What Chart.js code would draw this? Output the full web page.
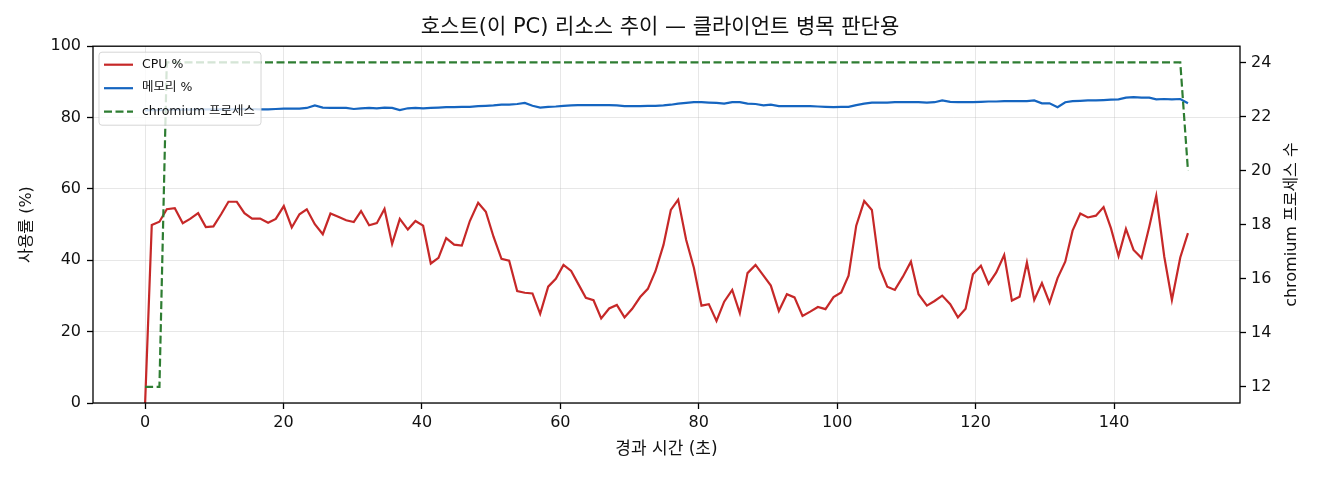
<!DOCTYPE html>
<html><head><meta charset="utf-8">
<script src="https://cdn.jsdelivr.net/npm/chart.js@4"></script>
<style>html,body{margin:0;padding:0;background:#fff;}canvas{display:block}</style>
</head><body>
<canvas id="c" width="1320" height="480"></canvas>
<script>
const titleText = '호스트(이 PC) 리소스 추이 — 클라이언트 병목 판단용';
const xTitle = '경과 시간 (초)';
const yLeftTitle = '사용률 (%)';
const yRightTitle = 'chromium 프로세스 수';
const seriesLabels = ['CPU %', '메모리 %', 'chromium 프로세스'];

const times = [
0,0.96,2.07,3.13,4.29,5.44,6.50,7.66,8.77,9.87,
10.98,12.04,13.25,14.35,15.46,16.62,17.77,18.88,20.04,21.19,
22.30,23.36,24.52,25.67,26.78,27.99,29.05,30.15,31.20,32.37,
33.48,34.59,35.69,36.80,37.96,39.06,40.17,41.28,42.39,43.50,
44.65,45.76,46.92,48.12,49.23,50.34,51.49,52.60,53.76,54.86,
55.97,57.08,58.24,59.34,60.45,61.56,62.52,63.68,64.79,65.90,
67.05,68.16,69.27,70.38,71.53,72.64,73.75,74.90,75.96,77.02,
78.18,79.29,80.39,81.45,82.56,83.67,84.83,85.93,87.04,88.20,
89.35,90.41,91.57,92.73,93.83,94.99,96.10,97.21,98.31,99.47,
100.58,101.64,102.75,103.90,105.01,106.12,107.23,108.33,109.49,110.65,
111.75,112.96,114.07,115.17,116.33,117.44,118.55,119.61,120.76,121.87,
122.98,124.13,125.24,126.35,127.41,128.47,129.58,130.68,131.84,132.95,
134.01,135.12,136.22,137.38,138.49,139.55,140.65,141.72,142.82,143.98,
145.09,146.10,147.26,148.36,149.57,150.68
];
const cpu = [
0,49.9,50.8,54.3,54.6,50.4,51.6,53.2,49.3,49.5,
52.9,56.4,56.4,53.2,51.7,51.7,50.5,51.6,55.2,49.2,
52.9,54.3,50.1,47.3,53.1,52.1,51.2,50.7,53.8,49.8,
50.4,54.4,44.6,51.6,48.6,51.0,49.7,39.1,40.7,46.2,
44.4,44.1,51.0,56.1,53.6,46.6,40.4,39.9,31.4,30.9,
30.7,25.0,32.6,34.8,38.7,37.0,33.6,29.5,28.8,23.7,
26.5,27.5,24.0,26.4,29.7,32.0,37.0,44.3,54.1,57.0,
45.7,37.9,27.3,27.7,23.0,28.4,31.7,25.2,36.4,38.7,
35.7,32.9,25.8,30.5,29.6,24.4,25.6,26.9,26.3,29.7,
31.0,35.7,49.7,56.6,54.1,37.9,32.6,31.7,35.4,39.6,
30.5,27.3,28.6,30.1,27.7,24.0,26.4,36.1,38.5,33.4,
36.6,41.5,28.7,29.8,39.4,28.9,33.6,28.1,35.0,39.6,
48.3,53.1,52.0,52.5,54.9,49.0,41.2,48.8,42.9,40.6,
49.4,58.1,41.0,28.9,40.8,47.6
];
const mem = [
82.0,82.1,82.1,82.2,82.2,82.2,82.2,82.3,82.3,82.3,
82.3,82.3,82.3,82.4,82.4,82.3,82.3,82.4,82.5,82.5,
82.5,82.7,83.4,82.8,82.7,82.7,82.7,82.4,82.6,82.7,
82.6,82.8,82.7,82.1,82.6,82.7,82.6,82.7,82.8,82.9,
82.9,83.0,83.0,83.2,83.3,83.4,83.6,83.6,83.8,84.1,
83.3,82.8,83.0,83.1,83.3,83.4,83.5,83.5,83.5,83.5,
83.5,83.4,83.2,83.2,83.2,83.3,83.3,83.4,83.6,83.9,
84.1,84.3,84.3,84.2,84.1,83.9,84.3,84.3,83.9,83.8,
83.4,83.6,83.2,83.2,83.2,83.2,83.2,83.1,83.0,82.9,
83.0,83.0,83.5,83.9,84.2,84.2,84.2,84.3,84.3,84.3,
84.3,84.2,84.3,84.8,84.4,84.3,84.3,84.3,84.4,84.5,
84.5,84.6,84.6,84.6,84.6,84.8,84.0,84.0,82.9,84.3,
84.6,84.7,84.8,84.8,84.9,85.0,85.1,85.6,85.7,85.6,
85.6,85.1,85.2,85.1,85.2,84.0
];
const procs = [
12,12,12,
24,24,24,24,24,24,24,24,24,24,24,24,
24,24,24,24,24,24,24,24,24,24,24,24,
24,24,24,24,24,24,24,24,24,24,24,24,
24,24,24,24,24,24,24,24,24,24,24,24,
24,24,24,24,24,24,24,24,24,24,24,24,
24,24,24,24,24,24,24,24,24,24,24,24,
24,24,24,24,24,24,24,24,24,24,24,24,
24,24,24,24,24,24,24,24,24,24,24,24,
24,24,24,24,24,24,24,24,24,24,24,24,
24,24,24,24,24,24,24,24,24,24,24,24,
24,24,24,24,24,24,24,24,24,24,24,24,
20
];
const xTicks = [0,20,40,60,80,100,120,140];
const yLeftTicks = [0,20,40,60,80,100];
const yRightTicks = [12,14,16,18,20,22,24];

const FONT = "'DejaVu Sans', 'Noto Sans CJK KR', sans-serif";
const TXT = '#111';
const colors = ['#c62828', '#1565c0', '#2e7d32'];

Chart.defaults.font.family = FONT;
Chart.defaults.color = TXT;

const pts = arr => arr.map((v, i) => ({x: times[i], y: v}));
const setTicks = list => scale => { scale.ticks = list.map(v => ({value: v})); };

const decor = {
  id: 'decor',
  afterDatasetsDraw(chart) {
    const {ctx, chartArea: a} = chart;
    ctx.save();
    ctx.strokeStyle = '#000';
    ctx.lineWidth = 1.3;
    ctx.strokeRect(a.left, a.top, a.right - a.left, a.bottom - a.top);

    // legend
    ctx.font = '12.5px ' + FONT;
    const ds = chart.data.datasets;
    let maxW = 0;
    ds.forEach(d => { maxW = Math.max(maxW, ctx.measureText(d.label).width); });
    const fx = a.left + 6, fy = a.top + 6;
    const lineX0 = fx + 5, lineX1 = fx + 34, textX = fx + 43;
    const fw = textX + maxW + 6 - fx, fh = 73;
    ctx.beginPath();
    if (ctx.roundRect) ctx.roundRect(fx, fy, fw, fh, 3); else ctx.rect(fx, fy, fw, fh);
    ctx.fillStyle = 'rgba(255,255,255,0.8)';
    ctx.fill();
    ctx.strokeStyle = 'rgba(204,204,204,0.8)';
    ctx.lineWidth = 1;
    ctx.stroke();
    ds.forEach((d, i) => {
      const y = fy + 12.5 + i * 23.5;
      ctx.beginPath();
      ctx.setLineDash(d.borderDash || []);
      ctx.strokeStyle = d.borderColor;
      ctx.lineWidth = d.borderWidth;
      ctx.moveTo(lineX0, y); ctx.lineTo(lineX1, y);
      ctx.stroke();
      ctx.setLineDash([]);
      ctx.fillStyle = TXT;
      ctx.textAlign = 'left';
      ctx.textBaseline = 'middle';
      ctx.fillText(d.label, textX, y);
    });
    ctx.restore();
  },
  afterDraw(chart) {
    const {ctx, chartArea: a} = chart;
    ctx.save();
    ctx.translate(1292, (a.top + a.bottom) / 2);
    ctx.rotate(-Math.PI / 2);
    ctx.font = '16px ' + FONT;
    ctx.fillStyle = TXT;
    ctx.textAlign = 'center';
    ctx.textBaseline = 'middle';
    ctx.fillText(yRightTitle, 0, 0);
    ctx.restore();
  }
};

new Chart(document.getElementById('c'), {
  type: 'line',
  data: {
    datasets: [
      {label: seriesLabels[0], data: pts(cpu), yAxisID: 'y', borderColor: colors[0], borderWidth: 2.2, order: 2},
      {label: seriesLabels[1], data: pts(mem), yAxisID: 'y', borderColor: colors[1], borderWidth: 2.2, order: 1},
      {label: seriesLabels[2], data: pts(procs), yAxisID: 'y2', borderColor: colors[2], borderWidth: 2.2, borderDash: [8, 3.5], order: 0}
    ]
  },
  options: {
    responsive: false,
    animation: false,
    events: [],
    layout: {padding: 0},
    elements: {point: {radius: 0}, line: {tension: 0, fill: false}},
    plugins: {
      legend: {display: false},
      tooltip: {enabled: false},
      title: {
        display: true, text: titleText, color: TXT,
        font: {size: 21, weight: 'normal', family: FONT},
        padding: {top: 15, bottom: 6}
      }
    },
    scales: {
      x: {
        type: 'linear', position: 'bottom', min: -7.53, max: 158.2,
        afterBuildTicks: setTicks(xTicks),
        afterFit: s => { s.height = 77; },
        border: {display: false},
        grid: {color: 'rgba(176,176,176,0.3)', lineWidth: 1, tickLength: 6, tickColor: '#000', tickWidth: 1.3},
        ticks: {font: {size: 16}, color: TXT, padding: 4, maxRotation: 0},
        title: {display: true, text: xTitle, font: {size: 17}, color: TXT, padding: {top: 0, bottom: 20}}
      },
      y: {
        type: 'linear', position: 'left', min: 0, max: 100,
        afterBuildTicks: setTicks(yLeftTicks),
        afterFit: s => { s.width = 93; },
        border: {display: false},
        grid: {color: 'rgba(176,176,176,0.3)', lineWidth: 1, tickLength: 6, tickColor: '#000', tickWidth: 1.3},
        ticks: {font: {size: 16}, color: TXT, padding: 6},
        title: {display: true, text: yLeftTitle, font: {size: 16}, color: TXT, padding: {top: 17, bottom: 0}}
      },
      y2: {
        type: 'linear', position: 'right', min: 11.4, max: 24.6,
        afterBuildTicks: setTicks(yRightTicks),
        afterFit: s => { s.width = 80; },
        border: {display: false},
        grid: {drawOnChartArea: false, tickLength: 6, tickColor: '#000', tickWidth: 1.3},
        ticks: {font: {size: 16}, color: TXT, padding: 5},
        title: {display: false}
      }
    }
  },
  plugins: [decor]
});
</script>
</body></html>
